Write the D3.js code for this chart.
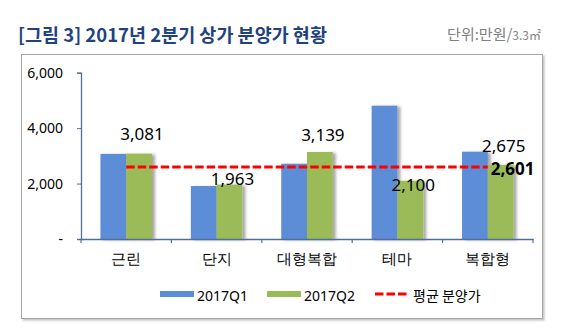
<!DOCTYPE html>
<html>
<head>
<meta charset="utf-8">
<script src="https://cdn.jsdelivr.net/npm/d3@7/dist/d3.min.js"></script>
<style>
  html, body { margin: 0; padding: 0; background: #fff; }
  svg { display: block; font-family: "Noto Sans CJK KR", "Noto Sans", sans-serif; }
</style>
</head>
<body>
<svg id="chart" width="566" height="335"></svg>
<script>
// Commercial-unit sale prices by type, 2017 Q1 vs Q2 (만원 per 3.3㎡)
const categories = ["근린", "단지", "대형복합", "테마", "복합형"];
const q1Values = [3070, 1910, 2715, 4810, 3150];
const q2Values = [3081, 1963, 3139, 2100, 2675];
const averagePrice = 2601;
const seriesNames = ["2017Q1", "2017Q2"];
const yTicks = [0, 2000, 4000, 6000];

// Vertical nudge (px) for each Q2 value label, relative to its bar top
const labelDy = [-14, 0, -10.5, 10, -13];

const svg = d3.select("#chart");
const colors = { q1: "#5B8DD6", q2: "#9BBB59", avg: "#FF0000", axis: "#4F6E9C" };

const defs = svg.append("defs");
const barShadow = defs.append("filter").attr("id", "barShadow")
  .attr("x", "-20%").attr("y", "-10%").attr("width", "160%").attr("height", "130%");
barShadow.append("feDropShadow").attr("dx", 3).attr("dy", 1).attr("stdDeviation", 1.6)
  .attr("flood-color", "#000").attr("flood-opacity", 0.35);
const frameShadow = defs.append("filter").attr("id", "frameShadow")
  .attr("x", "-5%").attr("y", "-5%").attr("width", "110%").attr("height", "110%");
frameShadow.append("feDropShadow").attr("dx", 1.5).attr("dy", 1.5).attr("stdDeviation", 0.8)
  .attr("flood-color", "#000").attr("flood-opacity", 0.25);

// Title and unit note
svg.append("text").attr("x", 18).attr("y", 42)
  .attr("font-size", 18.5).attr("font-weight", "bold").attr("fill", "#1F4380")
  .text("[그림 3] 2017년 2분기 상가 분양가 현황");
const unit = svg.append("text").attr("x", 541).attr("y", 40).attr("text-anchor", "end")
  .attr("fill", "#7F7F7F").attr("font-size", 15);
unit.append("tspan").text("단위:만원/");
unit.append("tspan").attr("font-size", 12).text("3.3㎡");

// Chart frame
svg.append("rect").attr("x", 21.5).attr("y", 54.5).attr("width", 521).attr("height", 264)
  .attr("fill", "#fff").attr("stroke", "#A6A6A6").attr("stroke-width", 1)
  .attr("filter", "url(#frameShadow)");

// Scales
const x = d3.scaleBand().domain(categories).range([81, 533])
  .paddingInner(0.43).paddingOuter(0.215);
const xs = d3.scaleBand().domain(seriesNames).range([0, x.bandwidth()]);
const y = d3.scaleLinear().domain([0, 6000]).range([239, 72.7]);

// Bars
const rows = categories.map((c, i) => ({ cat: c, vals: [q1Values[i], q2Values[i]] }));
const groups = svg.append("g").selectAll("g").data(rows).join("g")
  .attr("transform", d => `translate(${x(d.cat)},0)`);
groups.selectAll("rect").data(d => d.vals.map((v, k) => ({ v, s: seriesNames[k] })))
  .join("rect")
  .attr("x", d => xs(d.s)).attr("width", xs.bandwidth())
  .attr("y", d => y(d.v)).attr("height", d => y(0) - y(d.v))
  .attr("fill", d => d.s === "2017Q1" ? colors.q1 : colors.q2)
  .attr("filter", "url(#barShadow)");

// Y axis
const yAxis = svg.append("g").attr("transform", "translate(81,0)")
  .call(d3.axisLeft(y).tickValues(yTicks).tickSize(4).tickPadding(14)
    .tickFormat(d => d === 0 ? "-" : d3.format(",")(d)));
yAxis.select(".domain").attr("stroke", colors.axis).attr("stroke-width", 1.3);
yAxis.selectAll(".tick line").attr("stroke", colors.axis);
yAxis.selectAll(".tick text").attr("font-size", 14).attr("fill", "#000")
  .attr("font-family", "'Noto Sans', sans-serif");

// X axis: line, boundary ticks, category labels
const xAxis = svg.append("g").attr("transform", `translate(0,${y(0)})`)
  .call(d3.axisBottom(x).tickSize(0).tickPadding(14));
xAxis.select(".domain").attr("stroke", colors.axis).attr("stroke-width", 1.5);
xAxis.selectAll(".tick text").attr("font-size", 15).attr("fill", "#000");
const bounds = d3.range(categories.length + 1).map(i => x.range()[0] + i * x.step());
xAxis.selectAll(".bound").data(bounds).join("line").attr("class", "bound")
  .attr("x1", d => d).attr("x2", d => d).attr("y1", 0).attr("y2", 4)
  .attr("stroke", colors.axis).attr("stroke-width", 1.2);

// Average line from first to last category centre
const avgY = y(averagePrice);
const xc = c => x(c) + x.bandwidth() / 2;
svg.append("line")
  .attr("x1", xc(categories[0])).attr("x2", xc(categories[categories.length - 1]))
  .attr("y1", avgY).attr("y2", avgY)
  .attr("stroke", colors.avg).attr("stroke-width", 3).attr("stroke-dasharray", "8.5,3");
svg.append("text").attr("x", xc(categories[categories.length - 1]) + 3).attr("y", avgY + 8.5)
  .attr("font-size", 17).attr("font-weight", "bold").attr("fill", "#000")
  .attr("font-family", "'Noto Sans', sans-serif")
  .text(d3.format(",")(averagePrice));

// Q2 value labels
svg.append("g").selectAll("text").data(rows).join("text")
  .attr("x", d => x(d.cat) + xs("2017Q2") + xs.bandwidth() / 2 + 3)
  .attr("y", (d, i) => y(d.vals[1]) + labelDy[i])
  .attr("text-anchor", "middle").attr("font-size", 17).attr("fill", "#000")
  .attr("font-family", "'Noto Sans', sans-serif")
  .text(d => d3.format(",")(d.vals[1]));

// Legend
const legend = svg.append("g").attr("font-size", 14).attr("fill", "#000");
const legendItems = [
  { label: seriesNames[0], type: "bar", color: colors.q1, x: 160 },
  { label: seriesNames[1], type: "bar", color: colors.q2, x: 267 },
  { label: "평균 분양가", type: "line", color: colors.avg, x: 375 }
];
legendItems.forEach(it => {
  if (it.type === "bar") {
    legend.append("rect").attr("x", it.x).attr("y", 291).attr("width", 34).attr("height", 6)
      .attr("fill", it.color);
  } else {
    legend.append("line").attr("x1", it.x).attr("x2", it.x + 32).attr("y1", 294).attr("y2", 294)
      .attr("stroke", it.color).attr("stroke-width", 3).attr("stroke-dasharray", "8.5,3");
  }
  legend.append("text").attr("x", it.x + (it.type === "bar" ? 37 : 38)).attr("y", 300.5)
    .attr("font-family", it.type === "bar" ? "'Noto Sans', sans-serif" : null)
    .text(it.label);
});
</script>
</body>
</html>
